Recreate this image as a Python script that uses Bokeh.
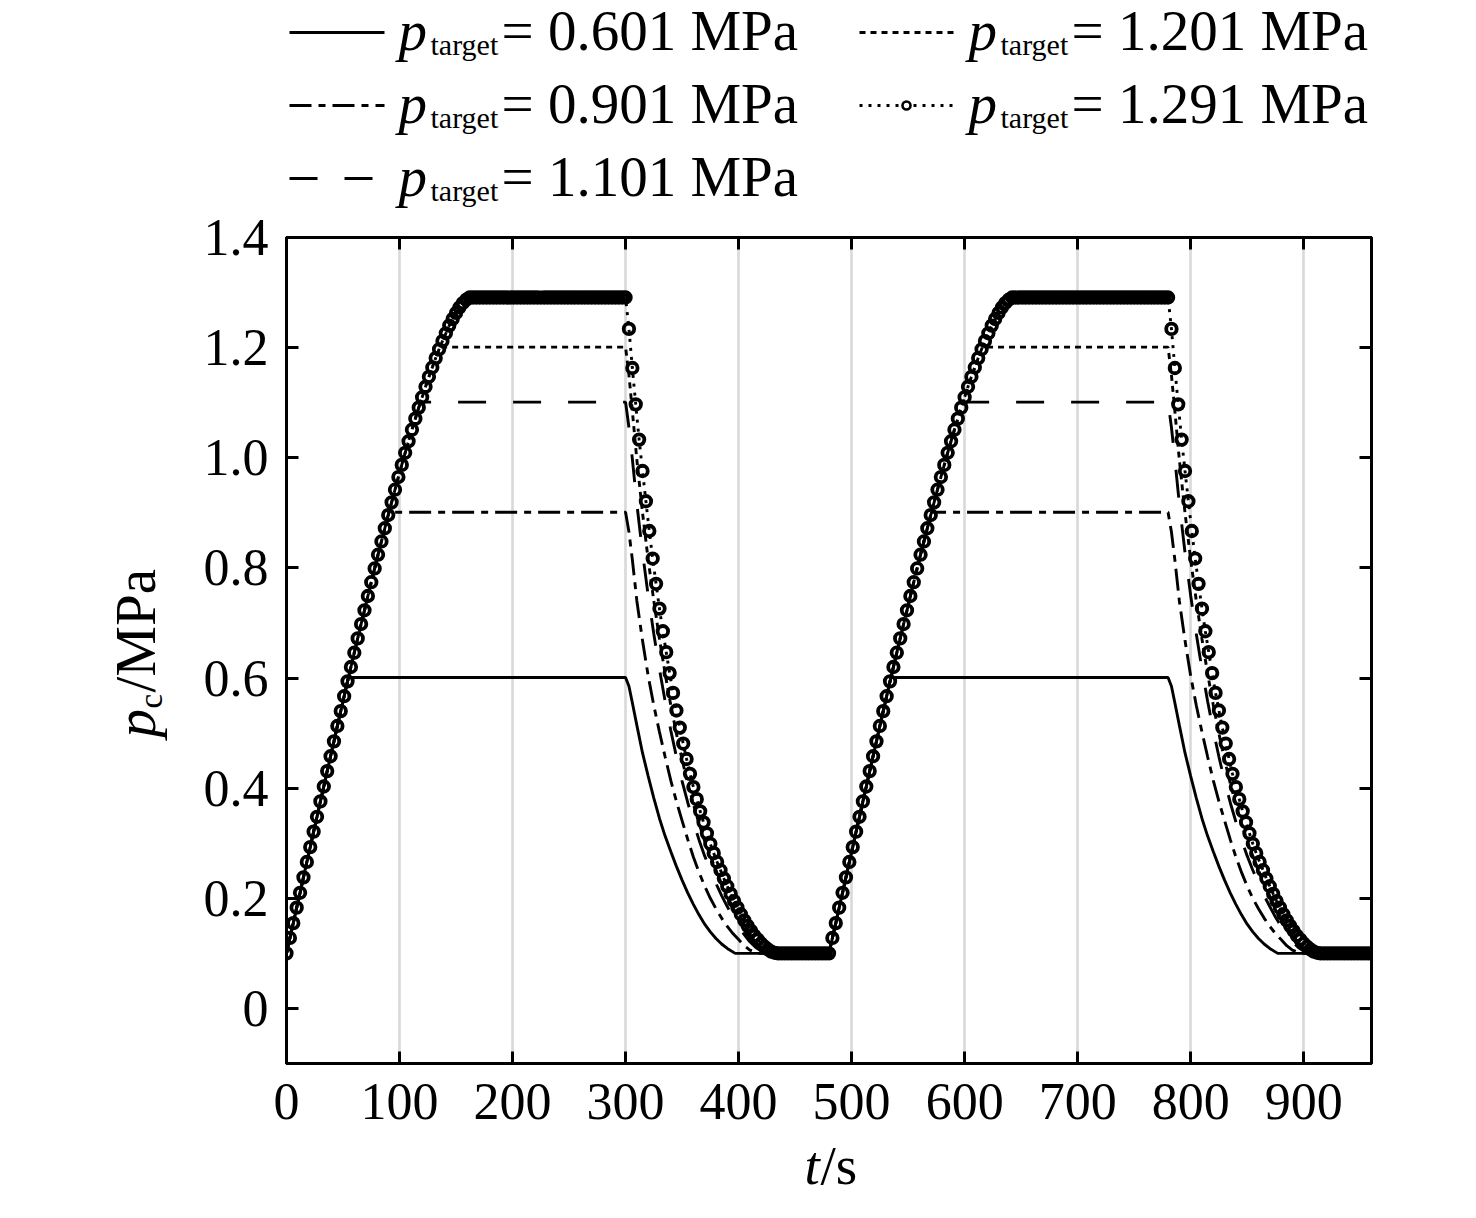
import numpy as np
from bokeh.plotting import figure
from bokeh.layouts import gridplot
from bokeh.models import Range1d, FixedTicker, LinearAxis
from bokeh.core.properties import value
from bokeh.embed import file_html
from bokeh.resources import INLINE

FONT = "Liberation Serif"

# ---------------- data ----------------
target_labels = ["0.601", "0.901", "1.101", "1.201", "1.291"]
targets = [0.601, 0.901, 1.101, 1.201, 1.291]
reach_t = [54.8, 90.7, 118.6, 135.8, 162.0]   # time when target reached
hold_end_t = 300.0
cycle_period = 480.0
t_end = 960.0
base_p = 0.1
sample_step = 3

# shared rise (sampled every 3 s)
rise_t = list(range(0, 163, sample_step))
rise_p = [0.100, 0.128, 0.155, 0.183, 0.210, 0.238, 0.266, 0.293, 0.321, 0.348,
          0.376, 0.403, 0.431, 0.458, 0.485, 0.513, 0.540, 0.567, 0.594, 0.620,
          0.646, 0.672, 0.698, 0.723, 0.749, 0.774, 0.799, 0.824, 0.848, 0.872,
          0.896, 0.919, 0.942, 0.965, 0.987, 1.009, 1.030, 1.051, 1.071, 1.091,
          1.110, 1.129, 1.147, 1.164, 1.181, 1.197, 1.212, 1.226, 1.240, 1.252,
          1.263, 1.273, 1.281, 1.287, 1.291]

desc_601_t = [300, 303, 306, 310, 315, 320, 325, 330, 335, 340, 345, 350, 355, 360,
              365, 370, 375, 380, 385, 390, 397]
desc_601_p = [0.601, 0.585, 0.555, 0.514, 0.464, 0.422, 0.382, 0.345, 0.313, 0.285,
              0.258, 0.233, 0.210, 0.189, 0.170, 0.153, 0.139, 0.127, 0.117, 0.109, 0.100]

desc_901_t = [300, 303, 306, 310, 315, 320, 325, 330, 335, 340, 345, 350, 355, 360,
              365, 370, 375, 380, 385, 390, 395, 400, 405, 410, 417]
desc_901_p = [0.901, 0.865, 0.815, 0.740, 0.668, 0.604, 0.550, 0.502, 0.457, 0.414,
              0.376, 0.341, 0.307, 0.275, 0.247, 0.222, 0.200, 0.181, 0.164, 0.149,
              0.136, 0.125, 0.114, 0.106, 0.100]

desc_1101_t = [300, 303, 306, 310, 315, 320, 325, 330, 335, 340, 345, 350, 355, 360,
               365, 370, 375, 380, 385, 390, 395, 400, 405, 410, 415, 420, 425]
desc_1101_p = [1.101, 1.055, 0.998, 0.916, 0.828, 0.750, 0.680, 0.616, 0.558, 0.505,
               0.457, 0.413, 0.374, 0.339, 0.306, 0.277, 0.251, 0.227, 0.205, 0.185,
               0.166, 0.149, 0.134, 0.121, 0.111, 0.104, 0.100]

desc_1201_t = [300, 303, 306, 310, 315, 320, 325, 330, 335, 340, 345, 350, 355, 360,
               365, 370, 375, 380, 385, 390, 395, 400, 405, 410, 415, 420, 425, 430]
desc_1201_p = [1.201, 1.150, 1.085, 0.996, 0.900, 0.815, 0.740, 0.671, 0.608, 0.551,
               0.499, 0.452, 0.409, 0.371, 0.336, 0.304, 0.277, 0.251, 0.226, 0.204,
               0.183, 0.164, 0.147, 0.132, 0.120, 0.110, 0.104, 0.100]

# 1.291 MPa series, sampled every 3 s (markers)
desc_1291_t = list(range(300, 436, sample_step))
desc_1291_p = [1.291, 1.234, 1.163, 1.097, 1.033, 0.976, 0.921, 0.867, 0.817, 0.771,
               0.726, 0.685, 0.647, 0.609, 0.573, 0.541, 0.510, 0.481, 0.453, 0.426,
               0.402, 0.380, 0.358, 0.338, 0.318, 0.299, 0.282, 0.266, 0.251, 0.236,
               0.222, 0.208, 0.195, 0.183, 0.171, 0.160, 0.150, 0.141, 0.132, 0.125,
               0.118, 0.112, 0.107, 0.103, 0.101, 0.100]

x_ticks = [0, 100, 200, 300, 400, 500, 600, 700, 800, 900]
y_ticks = [0, 0.2, 0.4, 0.6, 0.8, 1.0, 1.2, 1.4]
y_tick_labels = ["0", "0.2", "0.4", "0.6", "0.8", "1.0", "1.2", "1.4"]

descents = [(desc_601_t, desc_601_p), (desc_901_t, desc_901_p),
            (desc_1101_t, desc_1101_p), (desc_1201_t, desc_1201_p),
            (desc_1291_t, desc_1291_p)]


def one_cycle(k):
    target, reach = targets[k], reach_t[k]
    ts = [t for t in rise_t if t < reach] + [reach]
    ps = [q for t, q in zip(rise_t, rise_p) if t < reach] + [target]
    dt, dp = descents[k]
    ts += list(dt) + [cycle_period]
    ps += list(dp) + [base_p]
    return ts, ps


def two_cycles(ts, ps):
    return ts + [t + cycle_period for t in ts] + [t_end], ps + ps + [base_p]


def marker_series():
    ts = list(rise_t)
    ps = list(rise_p)
    plateau = list(range(rise_t[-1] + sample_step, int(hold_end_t), sample_step))
    ts += plateau
    ps += [targets[4]] * len(plateau)
    ts += desc_1291_t
    ps += desc_1291_p
    flat = list(range(desc_1291_t[-1] + sample_step, int(cycle_period), sample_step))
    ts += flat
    ps += [base_p] * len(flat)
    t2 = ts + [t + cycle_period for t in ts] + [t_end]
    p2 = ps + ps + [base_p]
    return t2, p2


styles = [
    dict(line_dash="solid"),
    dict(line_dash="22 7 7 7"),
    dict(line_dash="28 27"),
    dict(line_dash="6 5"),
    dict(line_dash="3 6"),
]
LW = 2.9

# ---------------- layout geometry (page pixels) ----------------
LEG_H = 208          # legend strip height
TOP_B = 29           # main figure top border
FRAME_W, FRAME_H = 1085, 826
LEFT_W = 200         # y-label strip width
LEFT_B = 85          # main figure left border
RIGHT_B = 90
BOT_B = 71           # main figure bottom border
XL_H = 64            # x-label strip height
FRAME_L = LEFT_W + LEFT_B            # 285
FRAME_T = LEG_H + TOP_B              # 237
FRAME_B = FRAME_T + FRAME_H          # 1063
XL_T = FRAME_B + BOT_B               # 1134

# ---------------- main figure ----------------
p = figure(frame_width=FRAME_W, frame_height=FRAME_H,
           x_range=Range1d(0, 960), y_range=Range1d(-0.1, 1.4),
           toolbar_location=None, output_backend="svg",
           min_border_left=LEFT_B, min_border_right=RIGHT_B,
           min_border_top=TOP_B, min_border_bottom=BOT_B)
p.outline_line_color = "black"
p.outline_line_width = 3
p.background_fill_color = "white"
p.border_fill_color = "white"

for ax in (p.xaxis[0], p.yaxis[0]):
    ax.axis_line_width = 3
    ax.major_tick_line_width = 3
    ax.major_tick_in = 12
    ax.major_tick_out = 0
    ax.minor_tick_line_color = None
    ax.major_label_text_font = FONT
    ax.major_label_text_font_size = "52px"
    ax.major_label_text_color = "black"

p.xaxis[0].ticker = FixedTicker(ticks=x_ticks)
p.xaxis[0].major_label_standoff = 20
p.yaxis[0].ticker = FixedTicker(ticks=y_ticks)
p.yaxis[0].major_label_overrides = {v: s for v, s in zip(y_ticks, y_tick_labels)}
p.yaxis[0].major_label_standoff = 18

# top / right ticks only (drawn as minor ticks so no labels exist)
top_ax = LinearAxis(ticker=FixedTicker(ticks=[], minor_ticks=x_ticks),
                    minor_tick_in=12, minor_tick_out=0, minor_tick_line_width=3,
                    major_tick_line_color=None, axis_line_width=3,
                    major_label_standoff=0)
right_ax = LinearAxis(ticker=FixedTicker(ticks=[], minor_ticks=y_ticks),
                      minor_tick_in=12, minor_tick_out=0, minor_tick_line_width=3,
                      major_tick_line_color=None, axis_line_width=3,
                      major_label_standoff=0)
p.add_layout(top_ax, "above")
p.add_layout(right_ax, "right")

p.xgrid.ticker = FixedTicker(ticks=x_ticks)
p.xgrid.grid_line_color = "#d9d9d9"
p.xgrid.grid_line_width = 2.6
p.ygrid.visible = False

for k in range(4):
    ts, ps = two_cycles(*one_cycle(k))
    p.line(ts, ps, line_color="black", line_width=LW, **styles[k])

mt, mp = marker_series()
p.line(mt, mp, line_color="black", line_width=LW, **styles[4])
p.scatter(mt, mp, marker="circle", size=10.5, fill_color=None,
          line_color="black", line_width=3.8)


def blank_fig(w, h, xr, yr, **borders):
    kw = dict(min_border_left=0, min_border_right=0, min_border_top=0,
              min_border_bottom=0)
    kw.update(borders)
    f = figure(frame_width=w, frame_height=h, x_range=xr, y_range=yr,
               toolbar_location=None, output_backend="svg",
               x_axis_type=None, y_axis_type=None, outline_line_color=None, **kw)
    f.grid.visible = False
    f.background_fill_color = "white"
    f.border_fill_color = "white"
    return f


def txt(f, x, y, s, size, style="normal", angle=0.0):
    # y is the vertical middle of the text line
    f.text([x], [y], text=[s], text_font=value(FONT), text_font_size=size,
           text_font_style=style, text_baseline="middle", text_align="left",
           text_color="black", angle=angle)


# ---------------- legend strip (x = page x, y = LEG_H - page_y) ----------------
leg = blank_fig(FRAME_W, LEG_H, Range1d(FRAME_L, FRAME_L + FRAME_W), Range1d(0, LEG_H),
                min_border_left=LEFT_B, min_border_right=RIGHT_B)
row_mid = [30, 103, 176]
col_x = [288, 858]
order = [(0, 0), (0, 1), (0, 2), (1, 0), (1, 1)]  # (col,row) of each series
for k, (c, r) in enumerate(order):
    x0 = col_x[c]
    mid = row_mid[r]
    ly = LEG_H - (mid + 2)
    leg.line([x0, x0 + 95], [ly, ly], line_color="black", line_width=LW, **styles[k])
    if k == 4:
        leg.scatter([x0 + 47], [ly], marker="circle", size=8, fill_color="white",
                    line_color="black", line_width=2.6)
    tx = x0 + 109
    txt(leg, tx, LEG_H - mid, "p", "57px", "italic")
    txt(leg, tx + 32, LEG_H - (mid + 13.5), "target", "30px")
    txt(leg, tx + 103, LEG_H - mid, "= " + target_labels[k] + " MPa", "57px")

# ---------------- y-label strip (x = page x, y = FRAME_B - page_y) ----------------
ylab = blank_fig(LEFT_W, FRAME_H, Range1d(0, LEFT_W), Range1d(0, FRAME_H),
                 min_border_top=TOP_B, min_border_bottom=BOT_B)
txt(ylab, 135, FRAME_B - 737, "p", "57px", "italic", np.pi / 2)
txt(ylab, 150, FRAME_B - 708, "c", "33px", "normal", np.pi / 2)
txt(ylab, 135, FRAME_B - 692, "/MPa", "57px", "normal", np.pi / 2)

# ---------------- x-label strip (x = page x, y = XL_T + XL_H - page_y) ----------------
xlab = blank_fig(FRAME_W, XL_H, Range1d(FRAME_L, FRAME_L + FRAME_W), Range1d(0, XL_H),
                 min_border_left=LEFT_B, min_border_right=RIGHT_B)
txt(xlab, 803, XL_T + XL_H - 1165, "t", "55px", "italic")
txt(xlab, 819, XL_T + XL_H - 1165, "/s", "55px")

grid = gridplot([[None, leg], [ylab, p], [None, xlab]], toolbar_location=None)
open("out.html", "w").write(file_html(grid, INLINE))
